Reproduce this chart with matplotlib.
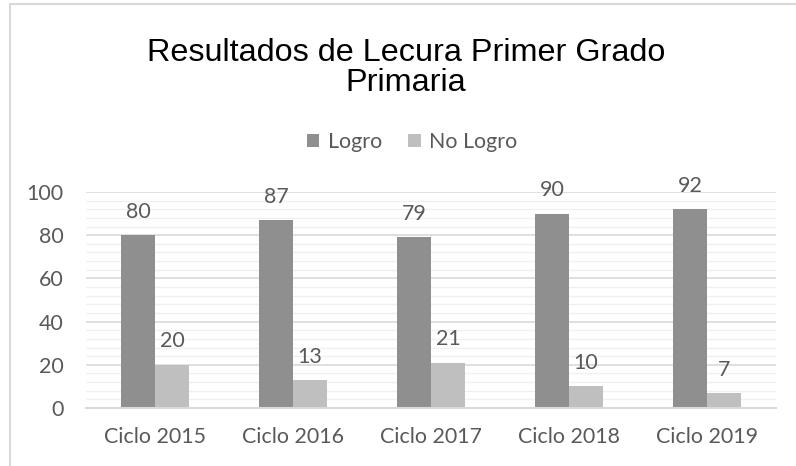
import matplotlib
matplotlib.use("Agg")
import matplotlib.pyplot as plt
import numpy as np
from matplotlib.ticker import MultipleLocator
from matplotlib.patches import Rectangle

categories = ["Ciclo 2015", "Ciclo 2016", "Ciclo 2017", "Ciclo 2018", "Ciclo 2019"]
logro = [80, 87, 79, 90, 92]
no_logro = [20, 13, 21, 10, 7]
series_names = ["Logro", "No Logro"]
title = "Resultados de Lecura Primer Grado\nPrimaria"

txt = "#595959"
c_logro = "#8f8f8f"
c_no = "#bfbfbf"
lab_font = ["Lato", "DejaVu Sans"]
fs = 15.4

fig = plt.figure(figsize=(7.96, 4.66), dpi=100)
fig.patches.append(Rectangle((10/796, -0.01), 1.0, 1 - 4/466 + 0.01, transform=fig.transFigure,
                             fill=False, edgecolor="#d9d9d9", linewidth=1.5))
ax = fig.add_axes([86/796, 1 - 408/466, (776 - 86)/796, (408 - 192)/466])

x = np.arange(len(categories))
w = 0.246
b1 = ax.bar(x - w/2, logro, w, color=c_logro, label=series_names[0], zorder=3)
b2 = ax.bar(x + w/2, no_logro, w, color=c_no, label=series_names[1], zorder=3)

for bars, vals in ((b1, logro), (b2, no_logro)):
    for r, v in zip(bars, vals):
        ax.annotate(str(v), (r.get_x() + r.get_width()/2, v), xytext=(0, 12.5),
                    textcoords="offset points", ha="center", va="baseline",
                    fontsize=fs, color=txt, family=lab_font)

ax.set_xlim(-0.5, len(categories) - 0.5)
ax.set_ylim(0, 100)
ax.yaxis.set_major_locator(MultipleLocator(20))
ax.yaxis.set_minor_locator(MultipleLocator(4))
ax.grid(which="major", axis="y", color="#d9d9d9", linewidth=1.2, zorder=0)
ax.grid(which="minor", axis="y", color="#f0f0f0", linewidth=1.0, zorder=0)
ax.set_axisbelow(True)
for s in ("top", "right", "left"):
    ax.spines[s].set_visible(False)
ax.spines["bottom"].set_color("#d9d9d9")
ax.spines["bottom"].set_linewidth(1.5)
ax.spines["bottom"].set_zorder(4)
ax.set_xticks(x)
ax.set_xticklabels(categories)
ax.tick_params(axis="both", which="both", length=0, colors=txt, labelsize=fs)
ax.tick_params(axis="x", pad=14)
ax.tick_params(axis="y", pad=16)
for lbl in ax.get_xticklabels() + ax.get_yticklabels():
    lbl.set_family(lab_font)

fig.text(406/796, 1 - 68/466, title, ha="center", va="center", fontsize=23.3,
         color="#000000", family=["Liberation Sans", "DejaVu Sans"], linespacing=1.03)

leg = fig.legend(handles=[b1, b2], labels=series_names, loc="center",
                 bbox_to_anchor=(412/796, 1 - 142/466), ncol=2, frameon=False,
                 handlelength=0.6, handleheight=0.6, handletextpad=0.4, columnspacing=1.2,
                 prop={"family": lab_font, "size": fs})
for t in leg.get_texts():
    t.set_color(txt)

fig.savefig("out.png", dpi=100)
